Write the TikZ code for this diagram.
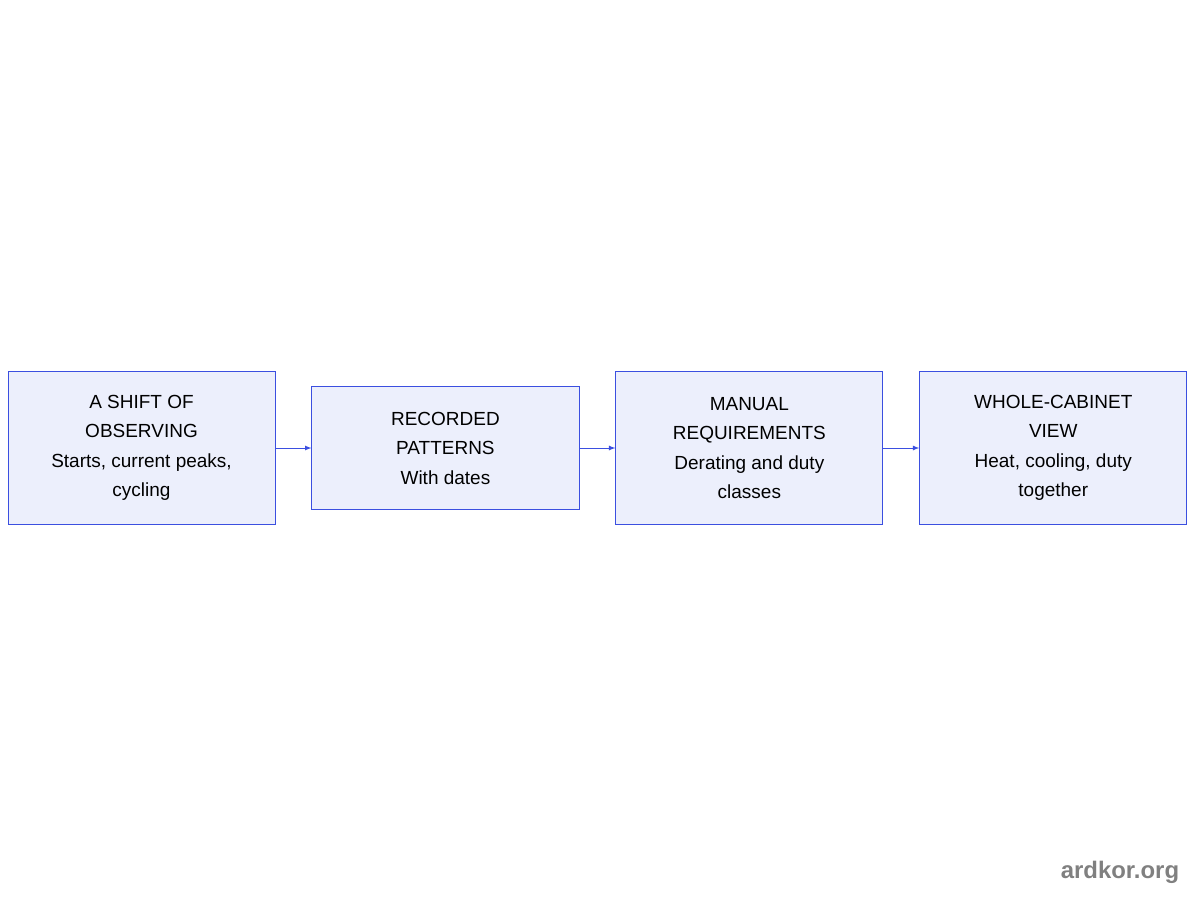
\documentclass[tikz,border=0pt]{standalone}
\usepackage{fontspec}
\setmainfont{Liberation Sans}
\usetikzlibrary{positioning}
\definecolor{boxfill}{HTML}{ECEFFC}
\definecolor{boxline}{HTML}{3B4FE0}
\tikzset{
    stage/.style={draw=boxline, fill=boxfill, line width=0.6pt, minimum width=6.675cm,
        align=center, font=\fontsize{13.5}{21}\selectfont, inner sep=0pt},
    tall/.style={stage, minimum height=3.825cm},
    flat/.style={stage, minimum height=3.075cm},
    link/.style={-latex, draw=boxline, line width=0.6pt}
}
\begin{document}
\begin{tikzpicture}[x=0.025cm, y=-0.025cm]
            \useasboundingbox (0,0) rectangle (1200,900);

            \node[tall] (shift) at (141.5,448) {A SHIFT OF\\OBSERVING\\Starts, current peaks,\\cycling};
            \node[flat, right=0.9cm of shift] (patterns) {RECORDED\\PATTERNS\\With dates};
            \node[tall, right=0.9cm of patterns] (manual) {MANUAL\\REQUIREMENTS\\Derating and duty\\classes};
            \node[tall, right=0.9cm of manual] (cabinet) {WHOLE-CABINET\\VIEW\\Heat, cooling, duty\\together};

            \draw[link] (shift)    to (patterns);
            \draw[link] (patterns) to (manual);
            \draw[link] (manual)   to (cabinet);

            \node[text=gray, font=\bfseries\fontsize{17}{20}\selectfont] (mark) at (1120,872) {ardkor.org};
        \end{tikzpicture}
\end{document}
